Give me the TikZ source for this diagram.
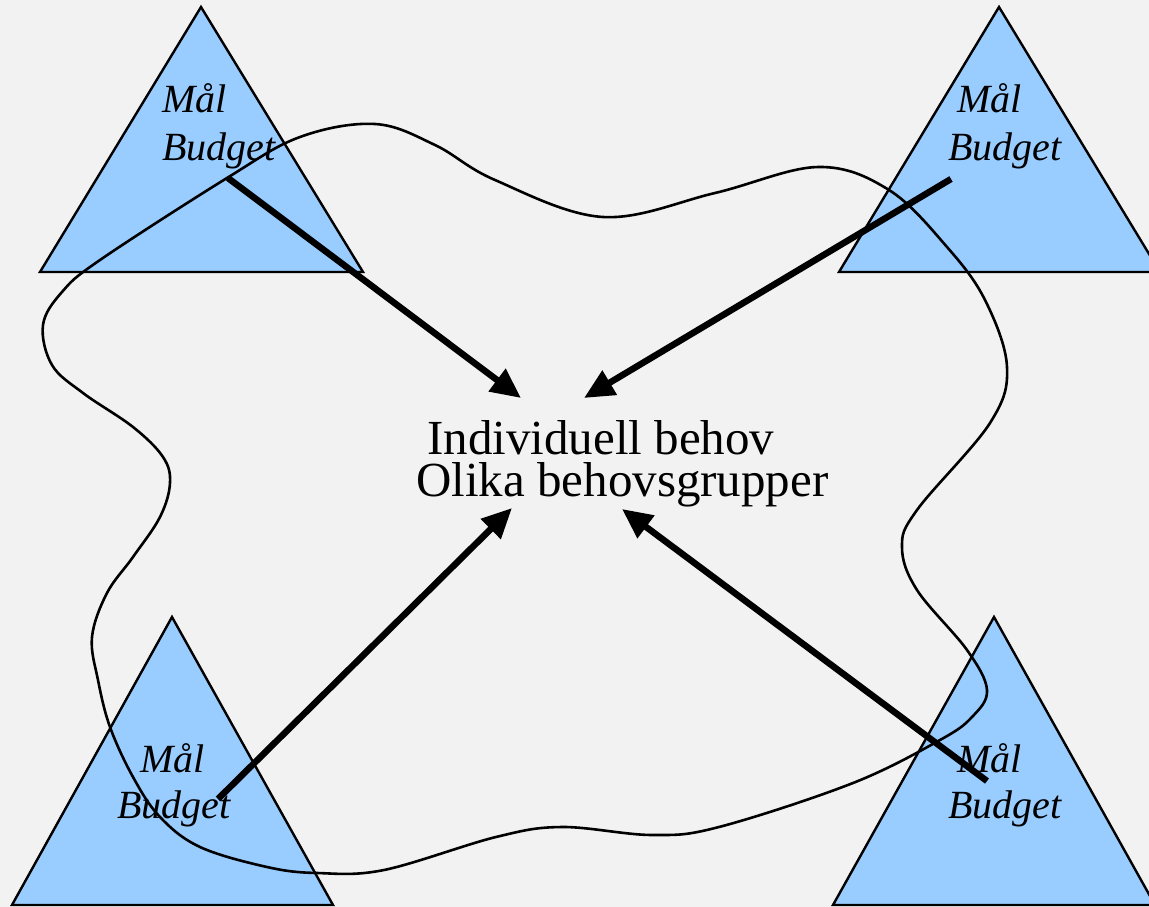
\documentclass[tikz,border=0pt]{standalone}
\usepackage{fontspec}
\setmainfont{Liberation Serif}
\usetikzlibrary{arrows.meta}
\definecolor{paper}{RGB}{242,242,242}
\definecolor{goalblue}{RGB}{153,204,255}
\begin{document}
\begin{tikzpicture}[x=1pt,y=-1pt,
  goal/.style={draw=black, line width=2.4pt, fill=goalblue, line join=miter},
  goallabel/.style={font=\fontsize{40}{47}\selectfont\itshape, inner sep=0pt, anchor=base west},
  centerlabel/.style={font=\fontsize{49}{42}\selectfont, inner sep=0pt, anchor=base west},
  link/.style={line width=6.5pt, -{Triangle[length=30pt,width=27pt]}},
  boundary/.style={line width=2.6pt}]
\useasboundingbox (0,0) rectangle (1149,907);
\clip (0,0) rectangle (1149,907);
\fill[paper] (0,0) rectangle (1149,907);

% the four goal/budget triangles
\draw[goal] (40,272) -- (201,7) -- (363,272) -- cycle;
\draw[goal] (839,272) -- (999,7) -- (1160,272) -- cycle;
\draw[goal] (12,905) -- (172,617) -- (333,905) -- cycle;
\draw[goal] (833,905) -- (994,617) -- (1155,905) -- cycle;

% triangle labels
\node[goallabel] (tlMal) at (162,113) {Mål};
\node[goallabel] (tlBudget) at (162,160) {Budget};
\node[goallabel] (trMal) at (957,113) {Mål};
\node[goallabel] (trBudget) at (948,160) {Budget};
\node[goallabel] (blMal) at (140,772) {Mål};
\node[goallabel] (blBudget) at (117,818) {Budget};
\node[goallabel] (brMal) at (957,772) {Mål};
\node[goallabel] (brBudget) at (948,818) {Budget};

% centre text
\node[centerlabel, text depth=0pt] (need) at (427,454) {Individuell behov};
\node[centerlabel, text height=34pt] (groups) at (416,496) {Olika behovsgrupper};

% wavy boundary around the whole
\draw[boundary] plot[smooth cycle, tension=0.6] coordinates {
  (43,325) (62,292) (100,260) (227,178) (300,137) (375,124) (435,145)
  (495,180) (603,217) (715,193) (818,167) (889,190) (947,247) (985,300)
  (1007,367) (990,423) (917,510) (902,547) (917,590) (967,650) (987,690)
  (972,717) (940,740) (853,783) (719,827) (652,835) (562,827) (496,837)
  (384,870) (317,873) (267,867) (200,847) (160,817) (133,777) (110,727)
  (98,680) (92,637) (107,593) (133,557) (160,517) (170,483) (163,457)
  (133,427) (83,393) (52,365)};

% arrows from each triangle towards the centre
\coordinate (tlS) at (228,178);
\coordinate (trS) at (951,179);
\coordinate (blS) at (218,799);
\coordinate (brS) at (987,781);
\coordinate (tlT) at (521,398);
\coordinate (trT) at (584,398);
\coordinate (blT) at (512,508);
\coordinate (brT) at (622,509);
\draw[link] (tlS) -- (tlT);
\draw[link] (trS) -- (trT);
\draw[link] (blS) -- (blT);
\draw[link] (brS) -- (brT);
\end{tikzpicture}
\end{document}
